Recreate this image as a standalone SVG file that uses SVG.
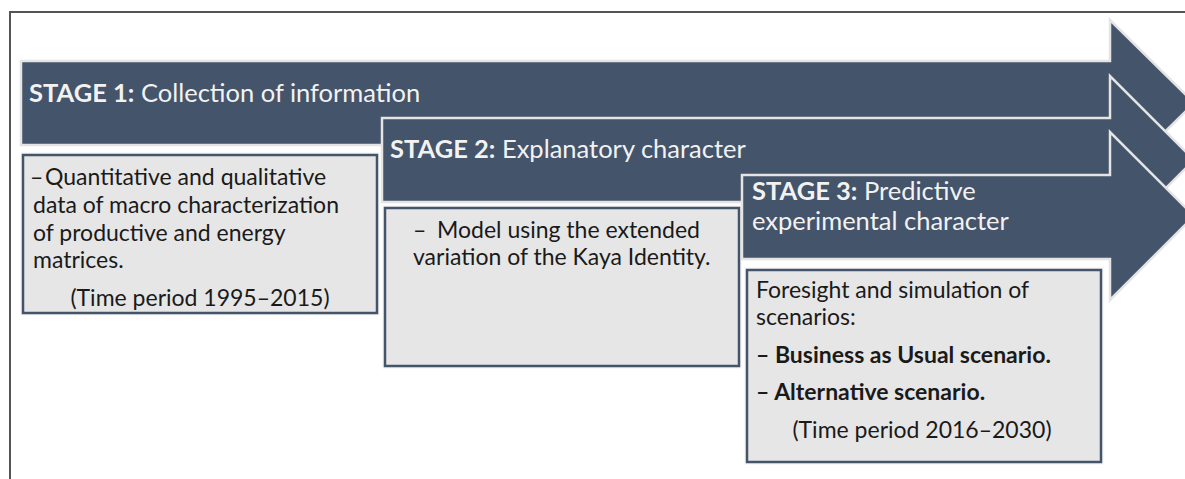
<svg xmlns="http://www.w3.org/2000/svg" width="1185" height="479" viewBox="0 0 1185 479">
  <defs>
    <style>
      .frame { fill: none; stroke: #555555; stroke-width: 2; }
      .arrow { fill: #44546A; stroke: #E4E4E4; stroke-width: 2.5; stroke-linejoin: miter; }
      .box { fill: #E6E6E6; stroke: #44546A; stroke-width: 2.5; }
      .box-halo { fill: none; stroke: #F4F4F4; stroke-width: 5; }
      .stage { font-family: Lato, "Liberation Sans", sans-serif; font-size: 25.5px; fill: #F2F2F2; }
      .stage .b { font-weight: bold; }
      .body { font-family: Lato, "Liberation Sans", sans-serif; font-size: 23px; fill: #1A1A1A; }
      .body .b { font-weight: bold; }
    </style>
  </defs>

  <!-- outer frame (top and left edges) -->
  <path class="frame" d="M10,479 V12 H1185"/>

  <!-- stage 1 -->
  <g id="stage1">
    <path class="arrow" d="M21,61 H1110 V20 L1194,103 L1110,186 V145 H21 Z"/>
    <text class="stage" x="29" y="102"><tspan class="b">STAGE 1:</tspan> Collection of information</text>
  </g>
  <g id="stage1-details">
    <rect class="box-halo" x="23" y="155" width="354" height="158"/>
    <rect class="box" x="23" y="155" width="354" height="158"/>
    <text class="body" x="30" y="185">–<tspan x="45">Quantitative and qualitative</tspan></text>
    <text class="body" x="33" y="213">data of macro characterization</text>
    <text class="body" x="33" y="241">of productive and energy</text>
    <text class="body" x="33" y="268">matrices.</text>
    <text class="body" x="200" y="306" text-anchor="middle">(Time period 1995–2015)</text>
  </g>

  <!-- stage 2 -->
  <g id="stage2">
    <path class="arrow" d="M382,118 H1110 V76 L1194,160 L1110,244 V202 H382 Z"/>
    <text class="stage" x="390" y="158"><tspan class="b">STAGE 2:</tspan> Explanatory character</text>
  </g>
  <g id="stage2-details">
    <rect class="box-halo" x="385" y="208" width="354" height="158"/>
    <rect class="box" x="385" y="208" width="354" height="158"/>
    <text class="body" x="413" y="238">–<tspan x="437">Model using the extended</tspan></text>
    <text class="body" x="413" y="265">variation of the Kaya Identity.</text>
  </g>

  <!-- stage 3 -->
  <g id="stage3">
    <path class="arrow" d="M742,175 H1110 V132 L1194,216 L1110,300 V259 H742 Z"/>
    <text class="stage" x="752" y="200"><tspan class="b">STAGE 3:</tspan> Predictive</text>
    <text class="stage" x="752" y="230">experimental character</text>
  </g>
  <g id="stage3-details">
    <rect class="box-halo" x="747" y="270" width="354" height="192"/>
    <rect class="box" x="747" y="270" width="354" height="192"/>
    <text class="body" x="756" y="298">Foresight and simulation of</text>
    <text class="body" x="756" y="325">scenarios:</text>
    <text class="body" x="756" y="363"><tspan class="b">– Business as Usual scenario.</tspan></text>
    <text class="body" x="756" y="400"><tspan class="b">– Alternative scenario.</tspan></text>
    <text class="body" x="922" y="438" text-anchor="middle">(Time period 2016–2030)</text>
  </g>

  <!-- no separate connectors: the stage arrows themselves carry the flow -->
  <g id="connectors"/>
</svg>
